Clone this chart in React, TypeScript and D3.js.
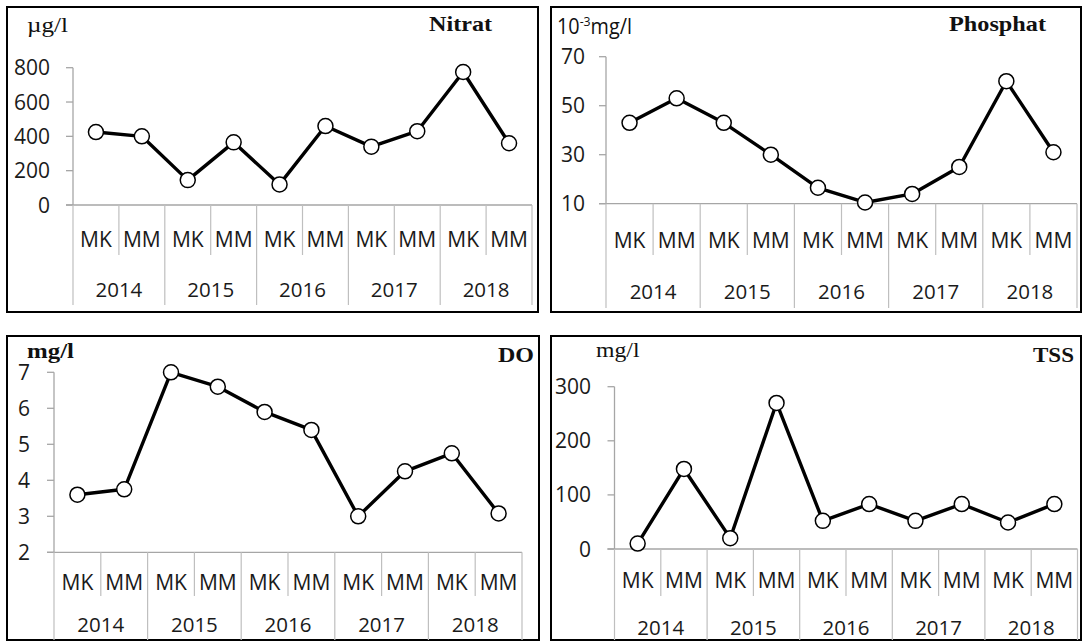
import React from "react";
import * as d3 from "d3";

const seasons = ["MK", "MM"];
const years = ["2014", "2015", "2016", "2017", "2018"];

const nitratValues = [425, 400, 145, 365, 120, 460, 340, 430, 775, 360];
const phosphatValues = [43, 53, 43, 30, 16.5, 10.5, 14, 25, 60, 31];
const doValues = [3.6, 3.75, 7.0, 6.6, 5.9, 5.4, 3.0, 4.25, 4.75, 3.08];
const tssValues = [10, 148, 20, 270, 52, 83, 52, 83, 49, 83];

const nitratTicks = [0, 200, 400, 600, 800];
const phosphatTicks = [10, 30, 50, 70];
const doTicks = [2, 3, 4, 5, 6, 7];
const tssTicks = [0, 100, 200, 300];

const categories = years.flatMap((y) => seasons.map((s) => `${y}-${s}`));

type Label = { text: React.ReactNode; x: number; y: number; w: number; bold: boolean; serif: boolean; size: number };

type PanelCfg = {
  box: [number, number, number, number];
  x0: number;
  x1: number;
  yTop: number;
  yBot: number;
  domain: [number, number];
  ticks: number[];
  values: number[];
  tickRight: number;
  seasonY: number;
  yearY: number;
  innerBottom: number;
  outerBottom: number;
  unit: Label;
  title: Label;
};

const SANS = "'Open Sans', sans-serif";
const SERIF = "'Liberation Serif', 'Times New Roman', serif";

function LabelText({ l }: { l: Label }) {
  return (
    <text
      x={l.x}
      y={l.y}
      textLength={l.w}
      lengthAdjust="spacingAndGlyphs"
      fontFamily={l.serif ? SERIF : SANS}
      fontWeight={l.bold ? "bold" : "normal"}
      fontSize={l.size}
      fill="#111"
    >
      {l.text}
    </text>
  );
}

function Panel({ c }: { c: PanelCfg }) {
  const x = d3.scaleBand().domain(categories).range([c.x0, c.x1]).padding(0);
  const y = d3.scaleLinear().domain(c.domain).range([c.yBot, c.yTop]);
  const line = d3
    .line<number>()
    .x((_, i) => (x(categories[i]) as number) + x.bandwidth() / 2)
    .y((d) => y(d));
  const [bx0, by0, bx1, by1] = c.box;
  const fs = 21;
  return (
    <g>
      <rect x={bx0} y={by0} width={bx1 - bx0} height={by1 - by0} fill="white" stroke="#000" strokeWidth={2} />
      <line x1={c.x0} x2={c.x0} y1={c.yTop} y2={c.yBot} stroke="#a6a6a6" strokeWidth={1.3} />
      {c.ticks.map((t) => (
        <g key={t}>
          <line x1={c.x0 - 7} x2={c.x0} y1={y(t)} y2={y(t)} stroke="#a6a6a6" strokeWidth={1.3} />
          <text
            x={c.tickRight}
            y={y(t) + fs * 0.36}
            textAnchor="end"
            fontFamily={SANS}
            fontSize={fs}
            fill="#1a1a1a"
          >
            {t}
          </text>
        </g>
      ))}
      <line x1={c.x0 - 7} x2={c.x1} y1={c.yBot} y2={c.yBot} stroke="#a6a6a6" strokeWidth={1.3} />
      {categories.map((cat, i) => {
        const xl = x(cat) as number;
        const isYearStart = i % 2 === 0;
        return (
          <line
            key={cat}
            x1={xl}
            x2={xl}
            y1={c.yBot}
            y2={isYearStart ? c.outerBottom : c.innerBottom}
            stroke="#bfbfbf"
            strokeWidth={1.2}
          />
        );
      })}
      <line x1={c.x1} x2={c.x1} y1={c.yBot} y2={c.outerBottom} stroke="#bfbfbf" strokeWidth={1.2} />
      {categories.map((cat, i) => (
        <text
          key={"s" + cat}
          x={(x(cat) as number) + x.bandwidth() / 2}
          y={c.seasonY + fs * 0.36}
          textAnchor="middle"
          fontFamily={SANS}
          fontSize={fs}
          fill="#1a1a1a"
        >
          {seasons[i % 2]}
        </text>
      ))}
      {years.map((yr) => (
        <text
          key={yr}
          x={x(`${yr}-MM`) as number}
          y={c.yearY + 20.5 * 0.36}
          textAnchor="middle"
          fontFamily={SANS}
          fontSize={20.5}
          fill="#1a1a1a"
        >
          {yr}
        </text>
      ))}
      <path d={line(c.values) || ""} fill="none" stroke="#000" strokeWidth={3.4} strokeLinejoin="round" />
      {c.values.map((v, i) => (
        <circle
          key={i}
          cx={(x(categories[i]) as number) + x.bandwidth() / 2}
          cy={y(v)}
          r={7.5}
          fill="white"
          stroke="#000"
          strokeWidth={1.5}
        />
      ))}
      <LabelText l={c.unit} />
      <LabelText l={c.title} />
    </g>
  );
}

const panels: PanelCfg[] = [
  {
    box: [7, 7, 538, 312],
    x0: 73,
    x1: 532,
    yTop: 67.7,
    yBot: 205,
    domain: [0, 800],
    ticks: nitratTicks,
    values: nitratValues,
    tickRight: 50,
    seasonY: 239,
    yearY: 290,
    innerBottom: 255,
    outerBottom: 305,
    unit: { text: "µg/l", x: 27, y: 32, w: 41, bold: false, serif: true, size: 21 },
    title: { text: "Nitrat", x: 429, y: 31, w: 63, bold: true, serif: true, size: 22 },
  },
  {
    box: [551, 7, 1081, 312],
    x0: 606,
    x1: 1077,
    yTop: 56.7,
    yBot: 203.7,
    domain: [10, 70],
    ticks: phosphatTicks,
    values: phosphatValues,
    tickRight: 585,
    seasonY: 240,
    yearY: 292,
    innerBottom: 255,
    outerBottom: 308,
    unit: {
      text: (
        <>
          10<tspan dy={-8} fontSize={13}>-3</tspan>
          <tspan dy={8}>mg/l</tspan>
        </>
      ),
      x: 557,
      y: 34,
      w: 75,
      bold: false,
      serif: false,
      size: 21,
    },
    title: { text: "Phosphat", x: 949, y: 31, w: 97, bold: true, serif: true, size: 22 },
  },
  {
    box: [7, 336, 539, 640],
    x0: 54,
    x1: 522,
    yTop: 372.3,
    yBot: 552.3,
    domain: [2, 7],
    ticks: doTicks,
    values: doValues,
    tickRight: 30,
    seasonY: 582,
    yearY: 625,
    innerBottom: 596,
    outerBottom: 640,
    unit: { text: "mg/l", x: 27, y: 358, w: 47, bold: true, serif: true, size: 22 },
    title: { text: "DO", x: 498, y: 362, w: 36, bold: true, serif: true, size: 22 },
  },
  {
    box: [551, 336, 1081, 640],
    x0: 614.5,
    x1: 1077.5,
    yTop: 386.7,
    yBot: 549,
    domain: [0, 300],
    ticks: tssTicks,
    values: tssValues,
    tickRight: 591,
    seasonY: 580,
    yearY: 628,
    innerBottom: 596,
    outerBottom: 640,
    unit: { text: "mg/l", x: 596, y: 357, w: 43.5, bold: false, serif: true, size: 21 },
    title: { text: "TSS", x: 1033, y: 362, w: 41, bold: true, serif: true, size: 22 },
  },
];

export default function App() {
  return (
    <svg
      width={1082}
      height={642}
      style={{ position: "absolute", left: 0, top: 0, background: "white" }}
    >
      <rect x={0} y={0} width={1082} height={642} fill="white" />
      {panels.map((p, i) => (
        <Panel key={i} c={p} />
      ))}
    </svg>
  );
}
